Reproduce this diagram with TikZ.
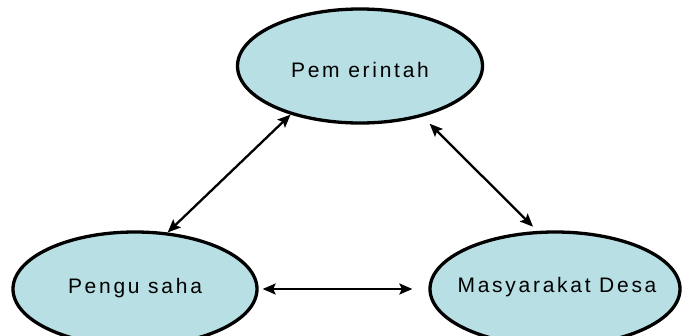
\documentclass[tikz,border=0pt]{standalone}
\usepackage{fontspec}
\setmainfont{Liberation Sans}[LetterSpace=13]
\usetikzlibrary{arrows.meta,shapes.geometric}
\definecolor{bubble}{RGB}{184,223,227}
\tikzset{
  party/.style={ellipse, draw=black, line width=3.3pt, fill=bubble,
    inner sep=0pt, minimum height=114pt},
  caption/.style={inner sep=0pt, text height=15pt, text depth=0pt,
    font=\fontsize{21}{24}\selectfont},
  tip/.tip={Stealth[length=13pt,width=11pt,inset=2.5pt]},
  link/.style={line width=2.3pt, tip-tip}
}
\begin{document}
\begin{tikzpicture}[x=1pt,y=-1pt]
  \useasboundingbox (0,0) rectangle (682,335);
  % three actors
  \node[party, minimum width=245pt,
        label={[caption, yshift=-4pt]center:Pem erintah}] (pem) at (360,66) {};
  \node[party, minimum width=244pt,
        label={[caption, yshift=3pt]center:Pengu saha}] (peng) at (135,289) {};
  \node[party, minimum width=250pt,
        label={[caption, yshift=4pt, xshift=2pt]center:Masyarakat Desa}] (mas) at (555,289) {};
  % relations between them
  \draw[link] (pem.215) -- (peng.60);
  \draw[link, shorten <=10pt, shorten >=6pt] (pem.321) -- (mas.107);
  \draw[link, shorten <=4pt, shorten >=16pt] (peng.east) -- (mas.west);
\end{tikzpicture}
\end{document}
